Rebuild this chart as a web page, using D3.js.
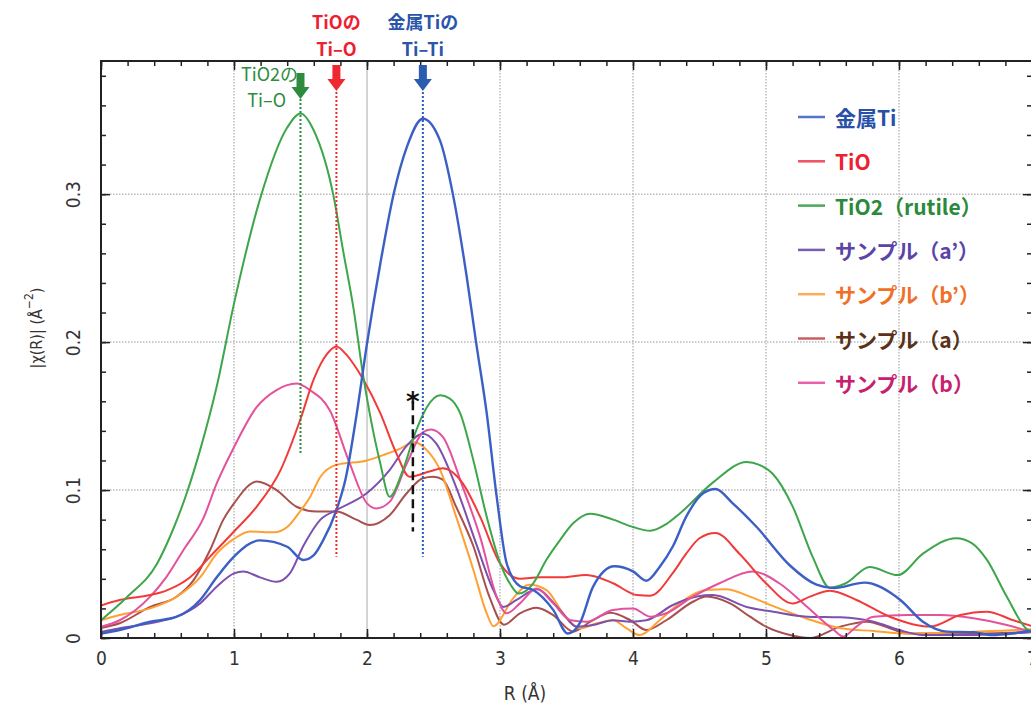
<!DOCTYPE html>
<html>
<head>
<meta charset="utf-8">
<script src="https://cdn.jsdelivr.net/npm/d3@7"></script>
<style>
  body { margin: 0; background: #fff; }
  .tick text { font-family: "DejaVu Sans Condensed", "DejaVu Sans", sans-serif; font-size: 19px; fill: #333; }
  .axis path, .axis line { stroke: #222; }
  .jp { font-family: "Noto Sans CJK JP", sans-serif; }
</style>
</head>
<body>
<div id="chart"></div>
<script>
// |chi(R)| curves, each point is [R (Å), value]
var metalTi = [[0,0.003],[0.14,0.0054],[0.37,0.011],[0.57,0.0144],[0.745,0.0257],[0.87,0.041],[1.0,0.055],[1.195,0.066],[1.4,0.0617],[1.52,0.0527],[1.6,0.056],[1.67,0.066],[1.77,0.0865],[1.84,0.108],[1.92,0.150],[2.0,0.199],[2.1,0.253],[2.2,0.300],[2.3,0.332],[2.42,0.351],[2.55,0.336],[2.65,0.298],[2.75,0.244],[2.82,0.200],[2.9,0.152],[2.975,0.0955],[3.05,0.0505],[3.15,0.035],[3.25,0.0324],[3.4,0.019],[3.51,0.003],[3.6,0.010],[3.7,0.0347],[3.86,0.0485],[4.0,0.045],[4.1,0.0387],[4.2,0.048],[4.3,0.062],[4.4,0.082],[4.53,0.098],[4.62,0.1007],[4.75,0.091],[4.93,0.075],[5.18,0.049],[5.38,0.036],[5.51,0.0337],[5.74,0.0374],[6.01,0.0257],[6.18,0.011],[6.36,0.0043],[6.56,0.004],[6.7,0.002],[6.85,0.003],[7,0.005]];
var tiO = [[0,0.022],[0.14,0.0257],[0.37,0.029],[0.49,0.032],[0.67,0.041],[0.82,0.055],[1.0,0.072],[1.17,0.0887],[1.35,0.1135],[1.5,0.148],[1.6,0.175],[1.7,0.192],[1.77,0.197],[1.84,0.192],[1.9,0.185],[1.97,0.175],[2.1,0.152],[2.22,0.125],[2.32,0.109],[2.47,0.1125],[2.57,0.1147],[2.72,0.1045],[2.85,0.082],[3.0,0.0505],[3.15,0.040],[3.3,0.041],[3.45,0.041],[3.65,0.0426],[3.85,0.037],[4.03,0.029],[4.13,0.0286],[4.3,0.044],[4.4,0.057],[4.5,0.0674],[4.62,0.071],[4.8,0.057],[5.0,0.037],[5.2,0.0234],[5.33,0.028],[5.48,0.032],[5.68,0.0257],[5.93,0.0144],[6.23,0.0077],[6.46,0.0155],[6.66,0.0178],[6.86,0.012],[7,0.008]];
var tiO2 = [[0,0.012],[0.2,0.028],[0.42,0.050],[0.54,0.073],[0.645,0.098],[0.745,0.127],[0.87,0.170],[1.0,0.226],[1.2,0.298],[1.4,0.345],[1.5,0.3545],[1.6,0.343],[1.75,0.298],[1.82,0.262],[1.9,0.222],[1.97,0.178],[2.02,0.152],[2.1,0.118],[2.17,0.0955],[2.27,0.1135],[2.36,0.138],[2.45,0.156],[2.55,0.164],[2.62,0.162],[2.7,0.152],[2.8,0.120],[2.9,0.082],[3.0,0.051],[3.08,0.036],[3.14,0.030],[3.25,0.037],[3.35,0.053],[3.45,0.066],[3.55,0.0775],[3.68,0.084],[3.85,0.080],[4.0,0.075],[4.13,0.0725],[4.25,0.077],[4.35,0.084],[4.6,0.105],[4.855,0.119],[4.95,0.117],[5.05,0.111],[5.2,0.089],[5.35,0.055],[5.48,0.034],[5.6,0.037],[5.78,0.048],[5.99,0.0425],[6.18,0.057],[6.43,0.0675],[6.55,0.064],[6.66,0.053],[6.81,0.028],[6.96,0.006],[7,0.004]];
var sampleA2 = [[0,0.004],[0.14,0.0066],[0.37,0.010],[0.57,0.0144],[0.745,0.0234],[0.87,0.0347],[1.0,0.0437],[1.07,0.045],[1.195,0.041],[1.32,0.038],[1.42,0.0437],[1.52,0.062],[1.65,0.080],[1.77,0.0865],[2.0,0.098],[2.17,0.1135],[2.3,0.130],[2.42,0.138],[2.52,0.1315],[2.67,0.102],[2.82,0.064],[2.95,0.0324],[3.025,0.021],[3.125,0.0257],[3.275,0.033],[3.45,0.019],[3.575,0.0077],[3.7,0.0088],[3.85,0.012],[3.98,0.011],[4.1,0.012],[4.3,0.0223],[4.48,0.028],[4.6,0.029],[4.855,0.021],[5.055,0.0177],[5.31,0.0144],[5.56,0.014],[5.81,0.011],[6.0,0.0054],[6.18,0.002],[6.5,0.002],[7,0.004]];
var sampleB2 = [[0,0.012],[0.14,0.0155],[0.37,0.020],[0.57,0.028],[0.745,0.041],[0.87,0.057],[1.0,0.067],[1.12,0.072],[1.3,0.0714],[1.4,0.075],[1.5,0.086],[1.57,0.095],[1.65,0.109],[1.77,0.117],[2.0,0.120],[2.12,0.1236],[2.25,0.128],[2.35,0.1325],[2.45,0.127],[2.55,0.1135],[2.67,0.082],[2.8,0.046],[2.9,0.0167],[2.95,0.008],[3.1,0.027],[3.22,0.036],[3.35,0.0324],[3.475,0.0167],[3.6,0.0066],[3.73,0.010],[3.85,0.012],[3.95,0.0066],[4.05,0.002],[4.2,0.012],[4.35,0.0234],[4.55,0.0324],[4.7,0.033],[4.88,0.028],[5.055,0.0215],[5.31,0.013],[5.56,0.0066],[5.81,0.0047],[6.06,0.003],[6.56,0.0043],[6.81,0.005],[7,0.006]];
var sampleA = [[0,0.0068],[0.14,0.010],[0.37,0.021],[0.57,0.028],[0.695,0.039],[0.82,0.0595],[0.92,0.080],[1.0,0.091],[1.17,0.1057],[1.32,0.100],[1.47,0.0887],[1.62,0.0855],[1.77,0.0855],[1.92,0.080],[2.02,0.0764],[2.17,0.083],[2.3,0.098],[2.42,0.108],[2.5,0.109],[2.57,0.107],[2.67,0.0887],[2.8,0.062],[2.92,0.028],[3.03,0.009],[3.15,0.0167],[3.275,0.0205],[3.4,0.0155],[3.55,0.0043],[3.68,0.011],[3.83,0.017],[3.98,0.012],[4.1,0.0054],[4.25,0.012],[4.45,0.0245],[4.55,0.028],[4.73,0.0234],[4.88,0.0144],[5.0,0.0077],[5.18,0.002],[5.33,0.0],[5.56,0.0077],[5.76,0.011],[5.93,0.0066],[6.06,0.003],[6.5,0.003],[7,0.004]];
var sampleB = [[0,0.0075],[0.14,0.012],[0.37,0.028],[0.49,0.041],[0.62,0.0595],[0.77,0.081],[0.87,0.1045],[1.0,0.129],[1.17,0.156],[1.32,0.1676],[1.47,0.172],[1.57,0.1676],[1.72,0.154],[1.87,0.118],[2.0,0.091],[2.07,0.0876],[2.17,0.092],[2.3,0.118],[2.42,0.139],[2.48,0.141],[2.57,0.136],[2.72,0.102],[2.85,0.0685],[2.975,0.028],[3.05,0.0167],[3.15,0.0234],[3.275,0.0335],[3.4,0.0234],[3.53,0.012],[3.65,0.011],[3.85,0.019],[4.0,0.020],[4.13,0.0144],[4.25,0.0167],[4.45,0.028],[4.65,0.037],[4.9,0.045],[5.1,0.037],[5.31,0.021],[5.51,0.0054],[5.58,0.001],[5.68,0.0077],[5.81,0.0144],[6.06,0.0155],[6.31,0.0155],[6.56,0.0133],[6.81,0.0088],[7,0.004]];

var seriesNames = ["金属Ti", "TiO", "TiO2（rutile）", "サンプル（a’）", "サンプル（b’）", "サンプル（a）", "サンプル（b）"];
var seriesData = [metalTi, tiO, tiO2, sampleA2, sampleB2, sampleA, sampleB];
var lineColors = ["#3b5fc4", "#f23a3a", "#3ea64a", "#7d4fae", "#ffa033", "#a8504e", "#e4519c"];
var legendLineColors = ["#5573c8", "#f05060", "#4aa858", "#7a5cb8", "#ffaa55", "#c86060", "#e860a8"];
var legendTextColors = ["#2850a8", "#ee2030", "#2a8a3a", "#5a44a8", "#f07028", "#5a3018", "#c8206e"];
// drawing order (back to front)
var drawOrder = [5, 4, 3, 6, 1, 2, 0];

var xTicks = [0, 1, 2, 3, 4, 5, 6, 7];
var yTicks = [0, 0.1, 0.2, 0.3];
var xGrid = [1, 2, 3, 4, 5, 6];
var yGrid = [0.1, 0.2, 0.3];

// peak markers: R positions
var markerR = {tiO2: 1.5, tiO: 1.77, metal: 2.42, star: 2.345};

var margin = {top: 61, right: -1, bottom: 73, left: 101};
var W = 1031, H = 711;
var width = 931;
var height = H - margin.top - margin.bottom;

var svg = d3.select("#chart").append("svg")
    .attr("width", W)
    .attr("height", H)
    .style("display", "block");

var x = d3.scaleLinear().domain([0, 7]).range([0, width]);
var y = d3.scaleLinear().domain([0, 0.39]).range([height, 0]);

var g = svg.append("g")
    .attr("transform", "translate(" + margin.left + "," + margin.top + ")");

svg.append("defs").append("clipPath").attr("id", "plotclip")
  .append("rect").attr("width", width).attr("height", height);

// grid
g.selectAll(".xgrid").data(xGrid).enter().append("line")
    .attr("x1", function(d) { return x(d); })
    .attr("x2", function(d) { return x(d); })
    .attr("y1", 0).attr("y2", height)
    .style("stroke", function(d) { return d == 2 ? "#aaa" : "#bbb"; })
    .style("stroke-width", function(d) { return d == 2 ? 1 : 1.5; })
    .style("stroke-dasharray", function(d) { return d == 2 ? null : "1.5,1.5"; });
g.selectAll(".ygrid").data(yGrid).enter().append("line")
    .attr("x1", 0).attr("x2", width)
    .attr("y1", function(d) { return y(d); })
    .attr("y2", function(d) { return y(d); })
    .style("stroke", "#bbb")
    .style("stroke-width", 1.5)
    .style("stroke-dasharray", "1.5,1.5");

// curves
var line = d3.line()
    .x(function(d) { return x(d[0]); })
    .y(function(d) { return y(d[1]); })
    .curve(d3.curveMonotoneX);

var curves = g.append("g").attr("clip-path", "url(#plotclip)");
drawOrder.forEach(function(i) {
  curves.append("path")
      .datum(seriesData[i])
      .attr("d", line)
      .style("fill", "none")
      .style("stroke", lineColors[i])
      .style("stroke-width", i == 0 ? 2.4 : 2);
});

// minor + major ticks on all four sides, pointing in
var minorX = d3.range(0, 7.01, 0.2);
var minorY = d3.range(0, 0.39, 0.02);

function styleAxis(sel) {
  sel.select(".domain").remove();
  sel.selectAll("line").style("stroke", "#222").style("stroke-width", 1.5);
}

g.append("g").attr("class", "axis")
    .attr("transform", "translate(0," + height + ")")
    .call(d3.axisBottom(x).tickValues(minorX).tickSize(-5).tickFormat(""))
    .call(styleAxis);
g.append("g").attr("class", "axis")
    .attr("transform", "translate(0," + height + ")")
    .call(d3.axisBottom(x).tickValues(xTicks).tickSize(-9).tickPadding(14).tickFormat(d3.format("d")))
    .call(styleAxis);
g.append("g").attr("class", "axis")
    .call(d3.axisTop(x).tickValues(minorX).tickSize(-5).tickFormat(""))
    .call(styleAxis);
g.append("g").attr("class", "axis")
    .call(d3.axisTop(x).tickValues(xTicks).tickSize(-9).tickFormat(""))
    .call(styleAxis);

g.append("g").attr("class", "axis")
    .call(d3.axisLeft(y).tickValues(minorY).tickSize(-5).tickFormat(""))
    .call(styleAxis);
var yAxisG = g.append("g").attr("class", "axis")
    .call(d3.axisLeft(y).tickValues(yTicks).tickSize(-9).tickFormat(function(d) { return d === 0 ? "0" : d3.format(".1f")(d); }))
    .call(styleAxis);
yAxisG.selectAll("text")
    .attr("x", 0).attr("dy", null)
    .attr("text-anchor", "middle")
    .attr("dominant-baseline", "central")
    .attr("transform", "translate(-28,0) rotate(-90)");
g.append("g").attr("class", "axis")
    .attr("transform", "translate(" + width + ",0)")
    .call(d3.axisRight(y).tickValues(minorY).tickSize(-5).tickFormat(""))
    .call(styleAxis);
g.append("g").attr("class", "axis")
    .attr("transform", "translate(" + width + ",0)")
    .call(d3.axisRight(y).tickValues(yTicks).tickSize(-9).tickFormat(""))
    .call(styleAxis);

// frame
g.append("rect")
    .attr("width", width).attr("height", height)
    .style("fill", "none").style("stroke", "#222").style("stroke-width", 2);

// axis titles
svg.append("text")
    .attr("x", 525).attr("y", 700)
    .attr("text-anchor", "middle")
    .style("font-family", "DejaVu Sans Condensed, DejaVu Sans, sans-serif")
    .style("font-size", "19px").style("fill", "#333")
    .text("R (Å)");
svg.append("text")
    .attr("transform", "translate(36,328) rotate(-90)")
    .attr("text-anchor", "middle")
    .attr("dominant-baseline", "central")
    .style("font-family", "DejaVu Sans Condensed, DejaVu Sans, sans-serif")
    .style("font-size", "16px").style("fill", "#333")
    .html("|χ(R)| (Å<tspan dy='-7' font-size='12px'>−2</tspan><tspan dy='7'>)</tspan>");

// dotted guide lines from arrows down to the peaks
function guide(r, y0, v1, color) {
  g.append("line")
      .attr("x1", x(r)).attr("x2", x(r))
      .attr("y1", y0).attr("y2", y(v1))
      .style("stroke", color).style("stroke-width", 2)
      .style("stroke-dasharray", "2,2");
}
guide(markerR.tiO2, 38, 0.124, "#2e8b3e");
guide(markerR.tiO, 31, 0.055, "#f02a30");
guide(markerR.metal, 31, 0.055, "#2a5cb8");

// black dashed line with asterisk
g.append("line")
    .attr("x1", x(markerR.star)).attr("x2", x(markerR.star))
    .attr("y1", y(0.160)).attr("y2", y(0.072))
    .style("stroke", "#111").style("stroke-width", 2.5)
    .style("stroke-dasharray", "9,5");
g.append("text")
    .attr("x", x(markerR.star)).attr("y", y(0.160) + 10)
    .attr("text-anchor", "middle")
    .style("font-family", "DejaVu Sans, sans-serif")
    .style("font-size", "26px").style("font-weight", "bold").style("fill", "#111")
    .text("*");

// thick down arrows
function arrow(r, top, color) {
  var cx = margin.left + x(r);
  var p = d3.path();
  p.moveTo(cx - 4, top);
  p.lineTo(cx + 4, top);
  p.lineTo(cx + 4, top + 14);
  p.lineTo(cx + 9, top + 14);
  p.lineTo(cx, top + 26);
  p.lineTo(cx - 9, top + 14);
  p.lineTo(cx - 4, top + 14);
  p.closePath();
  svg.append("path").attr("d", p.toString()).style("fill", color);
}
arrow(markerR.tiO2, 73, "#2e8b3e");
arrow(markerR.tiO, 65, "#ee2a30");
arrow(markerR.metal, 65, "#2a5cb0");

// top labels
function label(tx, ty, txt, color, weight, anchor, size) {
  svg.append("text")
      .attr("class", "jp")
      .attr("x", tx).attr("y", ty)
      .attr("text-anchor", anchor)
      .attr("dominant-baseline", "central")
      .style("font-size", size + "px")
      .style("font-weight", weight)
      .style("fill", color)
      .text(txt);
}
label(margin.left + x(markerR.tiO), 21, "TiOの", "#ee2030", "bold", "middle", 18);
label(margin.left + x(markerR.tiO), 48, "Ti–O", "#ee2030", "bold", "middle", 18);
label(margin.left + x(markerR.metal), 21, "金属Tiの", "#2a55aa", "bold", "middle", 18);
label(margin.left + x(markerR.metal), 48, "Ti–Ti", "#2a55aa", "bold", "middle", 18);
label(298, 73, "TiO2の", "#2e8b3e", "normal", "end", 18);
label(286, 99, "Ti–O", "#2e8b3e", "normal", "end", 18);

// legend
var legend = svg.append("g").attr("transform", "translate(798,117)");
seriesNames.forEach(function(name, i) {
  var row = legend.append("g").attr("transform", "translate(0," + (i * 44.3) + ")");
  row.append("line")
      .attr("x1", 0).attr("x2", 27)
      .style("stroke", legendLineColors[i]).style("stroke-width", 2.5);
  row.append("text")
      .attr("class", "jp")
      .attr("x", 37)
      .attr("dominant-baseline", "central")
      .style("font-size", "21px")
      .style("font-weight", "bold")
      .style("fill", legendTextColors[i])
      .text(name);
});
</script>
</body>
</html>
